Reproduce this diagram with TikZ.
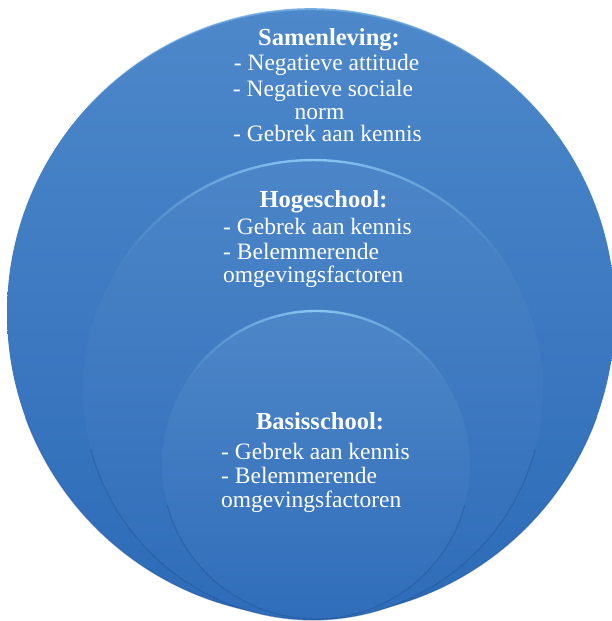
\documentclass[tikz,border=0pt]{standalone}
\usepackage{fontspec}
\setmainfont{Liberation Serif}
\usetikzlibrary{fadings}
\definecolor{cTop}{HTML}{4D88CA}
\definecolor{cBot}{HTML}{2D6BB8}
\definecolor{mTop}{HTML}{4C86C8}
\definecolor{mBot}{HTML}{2F6CB9}
\definecolor{iTop}{HTML}{4E87C8}
\definecolor{iBot}{HTML}{306DBA}
\definecolor{rimLight}{HTML}{8CC8F2}
\definecolor{rimDark}{HTML}{1F4F8F}
\tikzfading[name=fadesides, left color=transparent!100, right color=transparent!100, middle color=transparent!0]
\tikzset{
  txt/.style={text=white, font=\fontsize{23.5}{27}\selectfont, inner sep=0pt},
  ttl/.style={txt, font=\fontsize{24.5}{28}\selectfont\bfseries},
  toprim/.style={draw=rimLight, line width=2.4pt, path fading=fadesides},
  lowrim/.style={draw=rimDark, line width=1.2pt, opacity=0.4}
}
\begin{document}
\begin{tikzpicture}[x=1pt,y=-1pt]
\useasboundingbox (0,0) rectangle (612,621);
% (y axis points down: angles 180..360 are the upper half)
% outer circle
\shade[top color=cTop, bottom color=cBot] (311,313) circle[radius=304];
\path[toprim, draw=rimLight!55!cTop, line width=2pt] (311,313) ++(220:304) arc[start angle=220, end angle=320, radius=304];
\path[lowrim] (311,313) ++(160:304) arc[start angle=160, end angle=20, radius=304];
% middle circle
\shade[top color=mTop, bottom color=mBot] (313,390) circle[radius=230];
\path[toprim] (313,390) ++(210:230) arc[start angle=210, end angle=330, radius=230];
\path[lowrim] (313,390) ++(165:230) arc[start angle=165, end angle=15, radius=230];
% inner circle
\shade[top color=iTop, bottom color=iBot] (316,465) circle[radius=154];
\path[toprim] (316,465) ++(210:154) arc[start angle=210, end angle=330, radius=154];
\path[lowrim] (316,465) ++(165:154) arc[start angle=165, end angle=15, radius=154];
% Samenleving
\node[ttl, anchor=base] (s0) at (329,45) {Samenleving:};
\node[txt, anchor=base] (s1) at (326.5,70) {- Negatieve attitude};
\node[txt, anchor=base] (s2) at (323,96) {- Negatieve sociale};
\node[txt, anchor=base] (s3) at (319.5,119) {norm};
\node[txt, anchor=base] (s4) at (327.5,141) {- Gebrek aan kennis};
% Hogeschool
\node[ttl, anchor=base] (h0) at (323.5,207) {Hogeschool:};
\node[txt, anchor=base west] (h1) at (223,234) {- Gebrek aan kennis};
\node[txt, anchor=base west] (h2) at (223,259) {- Belemmerende};
\node[txt, anchor=base west] (h3) at (223,282) {omgevingsfactoren};
% Basisschool
\node[ttl, anchor=base] (b0) at (320,429) {Basisschool:};
\node[txt, anchor=base west] (b1) at (221,459) {- Gebrek aan kennis};
\node[txt, anchor=base west] (b2) at (221,483) {- Belemmerende};
\node[txt, anchor=base west] (b3) at (221,507) {omgevingsfactoren};
\end{tikzpicture}
\end{document}
